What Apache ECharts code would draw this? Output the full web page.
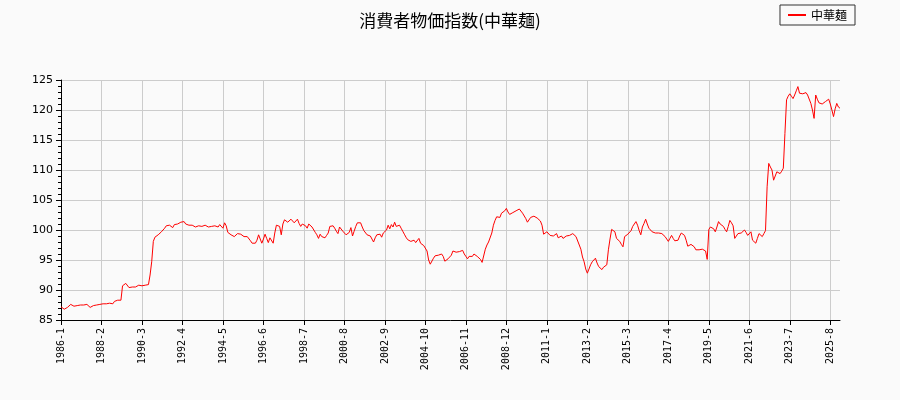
<!DOCTYPE html>
<html><head><meta charset="utf-8">
<script src="https://cdn.jsdelivr.net/npm/echarts@6/dist/echarts.min.js"></script>
<style>html,body{margin:0;background:#fafafa}#c{width:900px;height:400px}</style>
</head><body><div id="c"></div>
<script>
const startYear = 1986;
const seriesName = '中華麺';
const values = [
87.2,86.9,86.8,87.0,87.1,87.3,87.6,87.5,87.3,87.2,87.4,87.3,
87.5,87.6,87.5,87.6,87.6,87.5,87.1,87.3,87.4,87.4,87.5,87.6,
87.6,87.5,87.7,87.8,87.7,87.6,87.8,87.9,87.7,88.1,88.2,88.3,
88.2,88.3,90.7,90.8,91.1,90.8,90.4,90.2,90.5,90.6,90.5,90.7,
90.8,90.8,90.7,90.8,90.8,90.8,90.9,92.5,94.7,98.1,98.8,98.9,
99.2,99.5,99.7,100.0,100.3,100.7,100.5,100.8,100.9,100.4,100.9,101.1,
101.0,101.1,101.3,101.2,101.4,101.0,101.2,100.8,100.9,100.8,100.7,100.5,
100.6,100.7,100.5,100.6,100.6,100.8,100.6,100.5,100.7,100.6,100.8,100.7,
100.6,100.5,100.9,100.6,100.3,101.2,100.7,99.6,99.4,99.2,99.0,98.9,
99.1,99.4,99.7,99.3,99.0,98.9,98.8,98.9,98.6,98.2,97.8,97.9,
97.8,98.3,99.2,98.5,97.8,98.5,99.3,98.6,97.9,98.7,99.0,97.8,
99.5,100.8,101.1,100.6,99.2,101.0,101.7,101.4,101.3,101.5,101.8,101.6,
101.2,101.5,101.8,101.1,100.6,101.0,101.1,100.7,100.3,101.0,101.1,100.5,
100.2,99.6,99.2,98.6,99.3,98.9,98.6,98.7,99.1,99.5,100.6,100.4,
100.7,100.3,99.8,99.4,100.5,100.2,99.8,99.5,99.2,99.0,99.6,100.4,
99.0,99.8,100.6,101.2,101.0,101.2,100.5,99.9,99.6,99.2,99.0,99.0,
98.5,98.0,98.7,99.2,99.0,99.3,98.8,99.5,99.4,100.0,100.8,100.2,
100.9,100.5,101.3,100.6,100.9,100.8,100.3,99.8,99.3,98.8,98.4,98.1,
98.1,98.4,98.3,97.9,98.0,98.6,97.8,97.7,97.4,97.2,96.5,95.0,
94.3,94.6,95.3,95.7,95.9,95.8,96.1,96.0,95.6,94.8,95.0,95.2,
95.3,95.8,96.5,96.5,96.3,96.2,96.4,96.5,96.6,96.0,95.6,95.2,
95.6,95.4,95.6,96.0,96.2,95.6,95.3,95.1,94.6,94.3,96.8,97.5,
98.0,98.3,99.5,100.8,101.6,102.2,102.4,102.1,102.8,102.5,103.2,103.6,
103.0,102.6,102.8,102.9,103.0,103.2,103.4,103.5,103.2,102.8,102.5,101.9,
101.3,101.6,102.1,102.2,102.3,102.4,102.0,101.8,101.5,100.8,99.3,99.5,
99.7,99.4,99.1,99.3,99.0,99.2,99.4,98.7,98.6,99.0,98.6,98.8,
99.0,99.2,99.1,99.3,99.4,99.3,98.9,98.6,97.5,96.8,95.5,94.7,
93.5,92.8,93.5,94.2,94.7,95.0,95.3,94.5,93.9,93.6,93.4,93.8,
94.0,94.2,96.7,98.5,100.1,99.9,99.7,98.6,98.4,98.1,97.6,97.2,
98.9,99.0,99.3,99.4,99.9,100.6,100.9,101.4,100.8,99.9,99.2,100.5,
101.1,101.8,101.0,100.3,100.0,99.7,99.4,99.5,99.6,99.5,99.3,99.4,
99.2,98.9,98.5,98.1,98.6,99.1,98.6,98.2,98.3,98.3,99.0,99.5,
99.7,99.1,98.3,97.3,97.4,97.6,97.5,97.2,96.7,96.8,96.7,96.6,
96.8,97.0,96.5,95.1,100.1,100.5,100.8,100.2,99.7,100.5,101.4,101.0,
100.8,100.6,100.1,99.7,100.6,101.6,101.2,100.7,98.6,99.0,99.4,99.1,
99.5,99.7,100.0,99.6,99.1,99.4,99.7,98.3,98.0,97.8,98.6,99.4,
99.2,98.9,99.4,99.9,107.2,111.1,110.5,110.0,108.3,109.0,109.7,109.5,
109.4,109.8,110.3,116.1,121.7,122.3,122.7,122.3,121.9,122.5,123.2,123.9,
122.8,122.9,122.7,122.8,122.9,122.5,122.3,121.1,120.0,118.6,122.5,121.8,
121.2,121.3,121.0,121.1,121.4,121.7,121.8,121.0,120.0,118.9,120.2,121.1,
120.5,120.3
];
const categories = values.map((v,i)=> (startYear+Math.floor(i/12))+'-'+(i%12+1));
const chart = echarts.init(document.getElementById('c'));
chart.setOption({
  backgroundColor:'#fafafa',
  animation:false,
  title:{text:'消費者物価指数(中華麺)',left:'center',top:7,textStyle:{fontSize:17,fontWeight:'normal',color:'#000',fontFamily:'Noto Sans CJK JP'}},
  legend:{right:45,top:5,data:[seriesName],itemWidth:18,itemHeight:2,borderColor:'#333',borderWidth:1,borderRadius:0,padding:[4,8],textStyle:{fontSize:12,color:'#000',fontFamily:'Noto Sans CJK JP'},icon:'rect'},
  grid:{left:61,right:60,top:80,bottom:80},
  xAxis:{type:'category',data:categories,boundaryGap:false,
    axisLine:{lineStyle:{color:'#000'}},
    axisTick:{interval:24,lineStyle:{color:'#000'}},
    axisLabel:{interval:24,rotate:90,fontSize:10,color:'#000',fontFamily:'DejaVu Sans Mono'},
    splitLine:{show:true,interval:24,lineStyle:{color:'#ccc'}}},
  yAxis:{type:'value',min:85,max:125,interval:5,
    axisLine:{show:true,lineStyle:{color:'#000'}},
    axisTick:{show:true,lineStyle:{color:'#000'}},
    minorTick:{show:true,splitNumber:5,length:3,lineStyle:{color:'#000'}},
    axisLabel:{fontSize:11,color:'#000',fontFamily:'DejaVu Sans'},
    splitLine:{lineStyle:{color:'#ccc'}}},
  series:[{name:seriesName,type:'line',data:values,showSymbol:false,lineStyle:{color:'#ff0000',width:1},itemStyle:{color:'#ff0000'}}]
});
</script></body></html>
